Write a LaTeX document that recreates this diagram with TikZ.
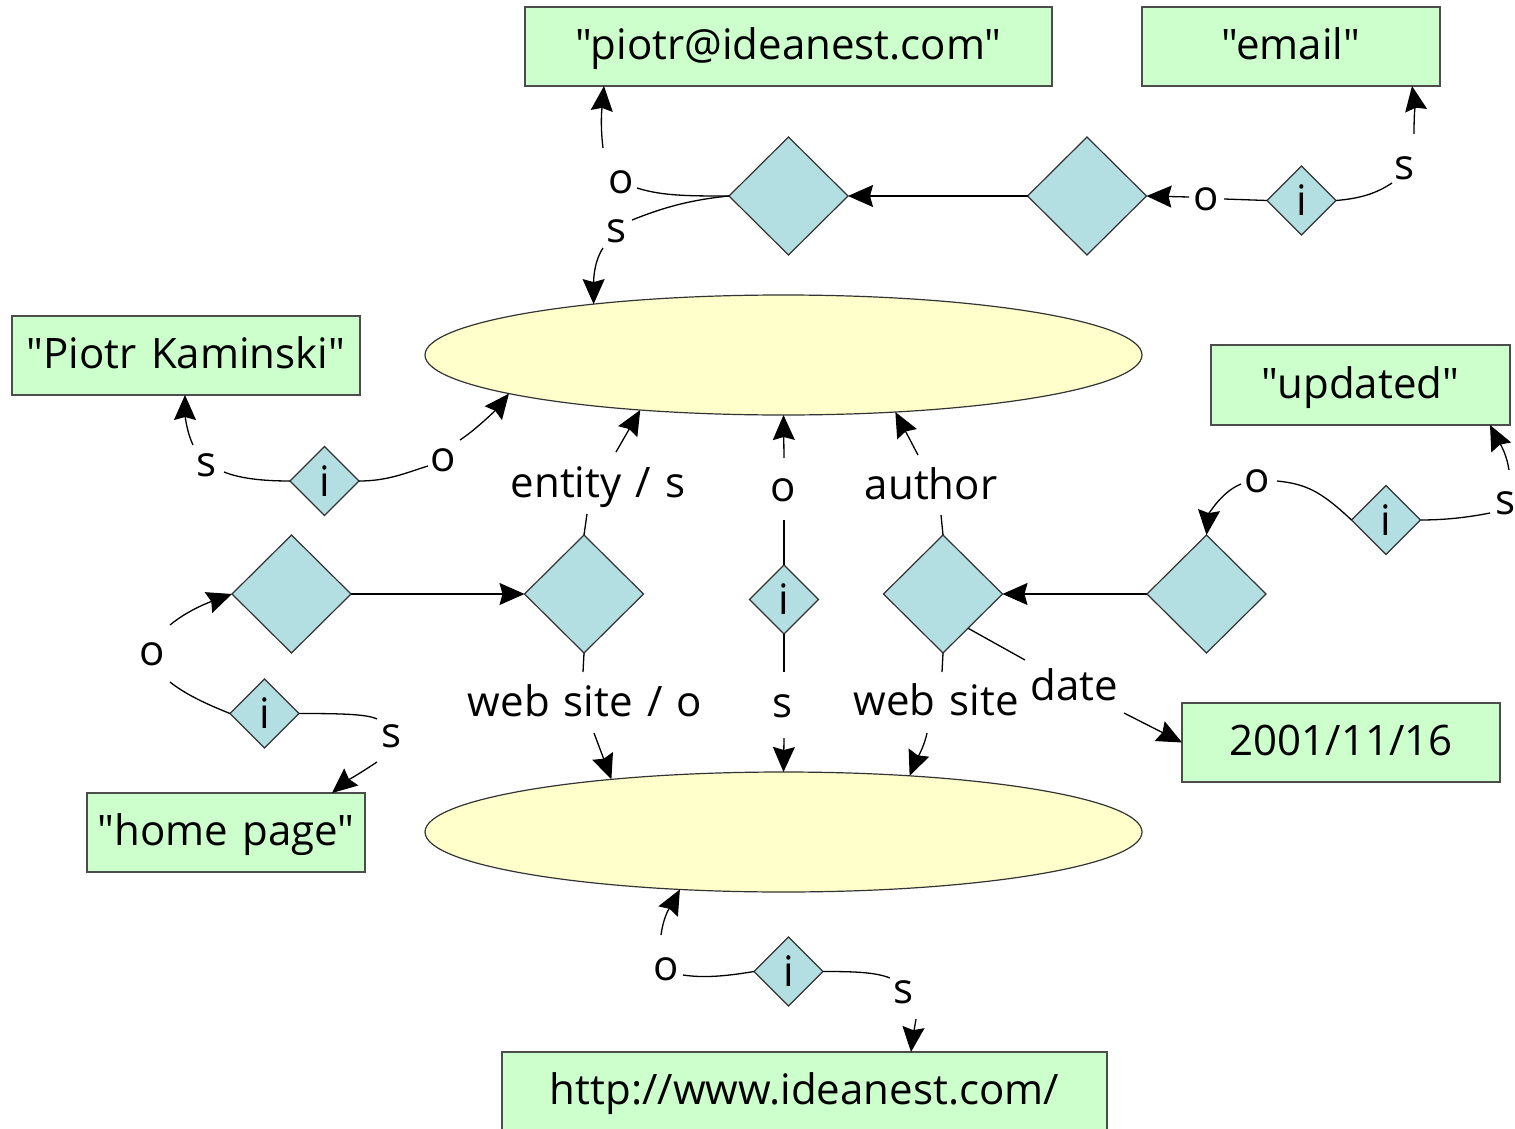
\documentclass[tikz,border=0pt]{standalone}
\usepackage{fontspec}
\setmainfont{Open Sans}[WordSpace=1.3, Ligatures=TeXOff]
\usetikzlibrary{shapes.geometric,arrows.meta,calc}

\definecolor{boxfill}{HTML}{CCFFCC}
\definecolor{diafill}{HTML}{B3DEE2}
\definecolor{ellfill}{HTML}{FFFFCC}
\definecolor{rim}{HTML}{333333}

\tikzset{
  every node/.append style={font=\fontsize{42}{50}\selectfont},
  literal/.style={draw=black!70, fill=boxfill, line width=1.2pt, minimum height=79pt,
    inner sep=0pt, outer sep=0pt, text height=32pt, text depth=6pt},
  resource/.style={ellipse, draw=rim, fill=ellfill, line width=1.2pt,
    minimum width=717pt, minimum height=120pt, inner sep=0pt, outer sep=0pt},
  stmt/.style={diamond, draw=rim, fill=diafill, line width=1.2pt,
    minimum width=119pt, minimum height=118pt, inner sep=0pt, outer sep=0pt},
  reif/.style={diamond, draw=rim, fill=diafill, line width=1.2pt,
    minimum width=69pt, minimum height=69pt, inner sep=0pt, outer sep=0pt},
  role/.style={anchor=base, inner sep=0pt},
  link/.style={line width=1.3pt},
  arc/.style={link, -{Stealth[length=25pt,width=22pt,inset=3pt]}},
}

\begin{document}
\begin{tikzpicture}[x=1pt,y=-1pt]
\useasboundingbox (0,0) rectangle (1515,1129);

% literal values
\node[literal, minimum width=527pt] (b1) at (788.5,46.5)  {"piotr@ideanest.com"};
\node[literal, minimum width=298pt] (b2) at (1291,46.5)   {"email"};
\node[literal, minimum width=348pt] (b3) at (186,355.5)   {"Piotr Kaminski"};
\node[literal, minimum width=299pt, minimum height=80pt] (b4) at (1360.5,385) {"updated"};
\node[literal, minimum width=318pt] (b5) at (1341,742.5)  {2001/11/16};
\node[literal, minimum width=278pt] (b6) at (226,832.5)   {"home page"};
\node[literal, minimum width=605pt] (b7) at (804.5,1091.5) {http://www.ideanest.com/};

% resources
\node[resource] (e1) at (783.5,355) {};
\node[resource] (e2) at (783.5,832) {};

% statements
\node[stmt] (d1) at (788.5,196) {};
\node[stmt] (d2) at (1087,196)  {};
\node[stmt] (d3) at (291.5,594) {};
\node[stmt] (d4) at (584,594)   {};
\node[stmt] (d5) at (943,594)   {};
\node[stmt] (d6) at (1206.5,594) {};

% reified triples
\node[reif] (i1) at (1301.5,200.5) {i};
\node[reif] (i2) at (324.5,481)    {i};
\node[reif] (i3) at (1386,520)     {i};
\node[reif] (i4) at (784,599.5)    {i};
\node[reif] (i5) at (264.5,713.5)  {i};
\node[reif] (i6) at (788.5,971.5)  {i};

% role labels
\node[role] (l1)  at (621,193)  {o};
\node[role] (l2)  at (617,242)  {s};
\node[role] (l3)  at (1206,210) {o};
\node[role] (l4)  at (1405,179) {s};
\node[role] (l5)  at (207,476)  {s};
\node[role] (l6)  at (443,471)  {o};
\node[role] (l7)  at (598,497)  {entity / s};
\node[role] (l8)  at (783,501)  {o};
\node[role] (l9)  at (931,499)  {author};
\node[role] (l10) at (1257,492) {o};
\node[role] (l11) at (1505,514) {s};
\node[role] (l12) at (152,665)  {o};
\node[role] (l13) at (585,716)  {web site / o};
\node[role] (l14) at (783,717)  {s};
\node[role] (l15) at (936,715)  {web site};
\node[role] (l16) at (1074,700) {date};
\node[role] (l17) at (392,747)  {s};
\node[role] (l18) at (666,980)  {o};
\node[role] (l19) at (904,1003) {s};

% break points where a connector meets its label
\coordinate (q1) at (637,188);   \coordinate (q2) at (603,148);
\coordinate (q3) at (632,220);   \coordinate (q4) at (603,248);
\coordinate (q5) at (1224,199);  \coordinate (q6) at (1189,197);
\coordinate (q7) at (1392,183);  \coordinate (q8) at (1414,134);
\coordinate (q9) at (224,472);   \coordinate (q10) at (193,445);
\coordinate (q11) at (428,466);  \coordinate (q12) at (460,440);
\coordinate (q13) at (587,514);  \coordinate (q14) at (616,452);
\coordinate (q15) at (784,520);  \coordinate (q16) at (784,458);
\coordinate (q17) at (941,515);  \coordinate (q18) at (918,455);
\coordinate (q19) at (583,672);  \coordinate (q20) at (594,733);
\coordinate (q21) at (784,672);  \coordinate (q22) at (784,738);
\coordinate (q23) at (942,672);  \coordinate (q24) at (927,733);
\coordinate (q25) at (1025,660); \coordinate (q26) at (1124,713);
\coordinate (q27) at (1277,481); \coordinate (q28) at (1241,484);
\coordinate (q29) at (1490,513); \coordinate (q30) at (1509,470);
\coordinate (q31) at (170,682);  \coordinate (q32) at (170,625);
\coordinate (q33) at (377,719);  \coordinate (q34) at (377,762);
\coordinate (q35) at (683,975);  \coordinate (q36) at (661,935);
\coordinate (q37) at (890,978);  \coordinate (q38) at (916,1019);

% statement-to-statement links
\draw[arc] (d2.west) -- (d1.east);
\draw[arc] (d3.east) -- (d4.west);
\draw[arc] (d6.west) -- (d5.east);

% top statement: object and subject
\draw[link] (d1.west) .. controls +(-40,0) and +(25,8) .. (q1);
\draw[arc] (q2) .. controls +(-3,-25) and +(-2,22) .. ([xshift=79pt]b1.south west);
\draw[link] (d1.west) .. controls +(-40,4) and +(30,-12) .. (q3);
\draw[arc] (q4) .. controls +(-10,15) and +(0,-20) .. (e1.165);

% email triple
\draw[link] (i1.west) -- (q5);
\draw[arc] (q6) -- (d2.east);
\draw[link] (i1.east) .. controls +(25,-2) and +(-15,10) .. (q7);
\draw[arc] (q8) .. controls +(0,-20) and +(3,18) .. ([xshift=270pt]b2.south west);

% name triple
\draw[link] (i2.west) .. controls +(-30,0) and +(15,6) .. (q9);
\draw[arc] (q10) .. controls +(-7,-15) and +(0,18) .. ([xshift=173pt]b3.south west);
\draw[link] (i2.east) .. controls +(30,0) and +(-20,6) .. (q11);
\draw[arc] (q12) .. controls +(18,-12) and +(-12,15) .. (e1.188);

% links up to the upper resource
\draw[link] (d4.north) -- (q13);
\draw[arc] (q14) -- (e1.201);
\draw[link] (i4.north) -- (q15);
\draw[arc] (q16) -- (e1.south);
\draw[link] (d5.north) -- (q17);
\draw[arc] (q18) -- (e1.333);

% links down to the lower resource
\draw[link] (d4.south) -- (q19);
\draw[arc] (q20) -- (e2.163);
\draw[link] (i4.south) -- (q21);
\draw[arc] (q22) -- (e2.north);
\draw[link] (d5.south) -- (q23);
\draw[arc] (q24) .. controls +(-3,15) and +(4,-10) .. (e2.24);

% date
\draw[link] ($(d5.east)!0.58!(d5.south)$) -- (q25);
\draw[arc] (q26) -- (b5.west);

% updated triple
\draw[link] (i3.west) .. controls +(-30,-28) and +(30,3) .. (q27);
\draw[arc] (q28) .. controls +(-20,8) and +(2,-20) .. (d6.north);
\draw[link] (i3.east) .. controls +(30,0) and +(-15,3) .. (q29);
\draw[arc] (q30) .. controls +(-3,-20) and +(6,12) .. ([xshift=279pt]b4.south west);

% home page triple
\draw[link] (i5.west) .. controls +(-25,-10) and +(15,12) .. (q31);
\draw[arc] (q32) .. controls +(18,-15) and +(-22,8) .. (d3.west);
\draw[link] (i5.east) .. controls +(40,0) and +(-10,-5) .. (q33);
\draw[arc] (q34) .. controls +(-15,10) and +(12,-10) .. ([xshift=245pt]b6.north west);

% web site triple
\draw[link] (i6.west) .. controls +(-30,5) and +(20,3) .. (q35);
\draw[arc] (q36) .. controls +(3,-22) and +(-8,15) .. (e2.209);
\draw[link] (i6.east) .. controls +(30,0) and +(-15,-6) .. (q37);
\draw[arc] (q38) .. controls +(-2,12) and +(1,-10) .. ([xshift=409pt]b7.north west);
\end{tikzpicture}
\end{document}
